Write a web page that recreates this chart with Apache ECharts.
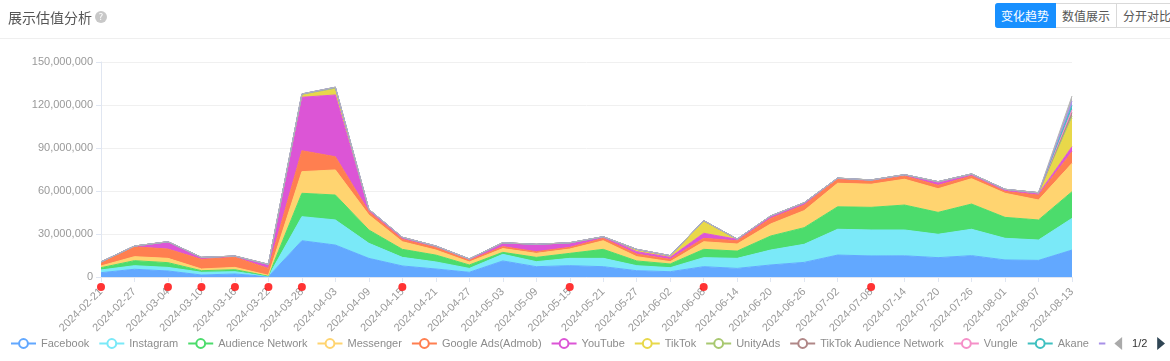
<!DOCTYPE html>
<html>
<head>
<meta charset="utf-8">
<script src="https://cdn.jsdelivr.net/npm/echarts@6/dist/echarts.min.js"></script>
<style>
  html, body { margin: 0; padding: 0; background: #fff; }
  body { width: 1170px; height: 361px; position: relative; overflow: hidden; font-family: "Noto Sans CJK SC", "Noto Sans", sans-serif; }
  #chart { position: absolute; left: 0; top: 0; width: 1170px; height: 361px; }
  .title { position: absolute; left: 8px; top: 7px; font-size: 14px; color: #555; z-index: 2; }
  .help { display: inline-block; width: 12px; height: 12px; border-radius: 50%; background: #c8c8c8; color: #fff; font-size: 9px; line-height: 12px; text-align: center; vertical-align: 3px; margin-left: 3px; font-family: "DejaVu Sans", sans-serif; }
  .sep { position: absolute; left: 0; top: 38px; width: 1170px; height: 1px; background: #efefef; z-index: 2; }
  .btns { position: absolute; left: 995px; top: 3px; display: flex; z-index: 2; }
  .btn { height: 23px; line-height: 23px; padding: 0 6px; font-size: 12px; color: #555; border: 1px solid #d9d9d9; border-left: none; background: #fff; white-space: nowrap; }
  .btn.on { background: #1890ff; color: #fff; border-color: #1890ff; border-radius: 3px 0 0 3px; }
</style>
</head>
<body>
<div id="chart"></div>
<div class="title">展示估值分析<span class="help">?</span></div>
<div class="sep"></div>
<div class="btns"><div class="btn on">变化趋势</div><div class="btn">数值展示</div><div class="btn">分开对比</div></div>
<script>
const dates = ['2024-02-21','2024-02-27','2024-03-04','2024-03-10','2024-03-16','2024-03-22','2024-03-28','2024-04-03','2024-04-09','2024-04-15','2024-04-21','2024-04-27','2024-05-03','2024-05-09','2024-05-15','2024-05-21','2024-05-27','2024-06-02','2024-06-08','2024-06-14','2024-06-20','2024-06-26','2024-07-02','2024-07-08','2024-07-14','2024-07-20','2024-07-26','2024-08-01','2024-08-07','2024-08-13'];
const yTicks = [0, 30000000, 60000000, 90000000, 120000000, 150000000];
const markerDates = ['2024-02-21','2024-03-04','2024-03-10','2024-03-16','2024-03-22','2024-03-28','2024-04-15','2024-05-15','2024-06-08','2024-07-08'];

// values in millions
const facebook  = [3.0,5.4,4.2,1.4,2.1,0.3,25.3,22.3,13.0,7.7,5.6,3.3,11.2,7.2,7.9,7.2,4.4,3.7,7.2,6.0,8.4,10.2,15.3,14.7,14.8,13.5,14.9,11.9,11.6,18.8];
const instagram = [1.9,2.5,2.5,1.9,1.6,0.2,16.8,17.5,10.5,6.0,4.9,2.7,4.6,3.5,5.1,5.8,3.5,2.8,6.3,7.0,10.4,12.6,18.0,18.1,18.0,16.3,18.4,15.1,14.2,22.1];
const audienceNetwork = [1.6,3.5,3.3,1.1,1.4,0.2,16.3,17.4,9.3,5.6,4.8,2.4,1.4,3.0,3.5,6.3,3.3,2.6,5.8,5.1,9.8,11.6,15.7,15.8,17.4,15.3,17.6,14.6,14.0,18.6];
const messenger = [1.2,2.8,3.0,1.2,1.6,0.5,15.1,17.5,10.5,5.3,3.5,2.1,2.6,2.8,3.0,6.0,3.0,1.6,5.3,4.9,8.4,11.9,16.4,16.1,18.0,16.5,17.7,16.8,13.9,19.8];
const googleAds = [2.8,6.9,6.5,6.7,7.0,4.8,14.6,9.2,2.3,1.7,1.7,1.1,1.4,1.2,1.2,1.7,1.8,1.6,2.4,2.3,3.9,3.9,3.0,2.5,2.3,2.4,1.9,1.4,3.5,8.1];
const youtube   = [0,0.5,5.1,1.4,0.9,2.8,37.3,43.1,1.1,1.4,1.1,1.0,2.7,5.1,3.2,1.1,1.7,1.4,3.5,1.0,1.7,1.6,0.4,0.3,0.6,2.0,0.9,0.7,0.7,3.5];
const tiktok    = [0,0,0,0,0,0,1.6,4.0,0.5,0,0,0,0,0,0,0,1.6,1.2,8.8,0.2,0,0,0.2,0.2,0.3,0.5,0.5,0.7,0.9,19.8];
const unityAds  = [0,0,0,0,0,0,0.4,0.8,0,0,0,0,0,0,0,0,0,0,0,0,0,0,0,0,0,0,0,0,0,1.5];
const tiktokAN  = [0,0,0,0,0,0,0.3,0.6,0,0,0,0,0,0,0,0,0,0,0,0,0,0,0,0,0,0,0,0,0,2.5];
const vungle    = [0,0,0,0,0,0,0,0,0,0,0,0,0,0,0,0,0,0,0,0,0,0,0,0,0,0,0,0,0,2.0];
const akane     = [0,0,0,0,0,0,0,0,0,0,0,0,0,0,0,0,0,0,0,0,0,0,0,0,0,0,0,0,0,3.0];
const mintegral = [0,0,0,0,0,0,0,0,0,0,0,0,0,0,0,0,0,0,0,0,0,0,0,0,0,0,0,0,0,3.0];
const others    = [0,0,0,0,0,0,0,0,0,0,0,0,0,0,0,0,0,0,0,0,0,0,0,0,0,0,0,0,0,3.6];

const seriesNames = ['Facebook','Instagram','Audience Network','Messenger','Google Ads(Admob)','YouTube','TikTok','UnityAds','TikTok Audience Network','Vungle','Akane','Mintegral','Others'];
const seriesValues = [facebook,instagram,audienceNetwork,messenger,googleAds,youtube,tiktok,unityAds,tiktokAN,vungle,akane,mintegral,others];
const colors = ['#62a8ff','#7ae9f8','#4cdc6c','#ffd470','#ff7f50','#dc55d6','#e8d84a','#a8c870','#b08787','#f590c8','#3fc0c0','#a890e8','#b5b5b5'];
const FONT = '"Liberation Sans", Arial, sans-serif';

const chart = echarts.init(document.getElementById('chart'));
const series = seriesNames.map((name, i) => ({
  name, type: 'line', stack: 'total', smooth: false,
  symbol: 'emptyCircle', showSymbol: false,
  lineStyle: { width: 1, color: colors[i] },
  itemStyle: { color: colors[i] },
  areaStyle: { color: colors[i], opacity: 1 },
  data: seriesValues[i].map(v => Math.round(v * 1000000))
}));
series.push({
  name: 'marker', type: 'scatter', clip: false, symbol: 'circle', symbolSize: 8,
  symbolOffset: [0, 10], itemStyle: { color: '#f00' }, z: 10, silent: true,
  data: markerDates.map(d => [d, 0])
});

chart.setOption({
  animation: false,
  color: colors,
  textStyle: { fontFamily: FONT },
  grid: { left: 101, right: 98, top: 62, bottom: 84 },
  legend: {
    type: 'scroll', data: seriesNames, left: 5, right: 6, bottom: 6,
    itemWidth: 25, itemHeight: 11, itemGap: 9,
    textStyle: { color: '#8c8c8c', fontSize: 11, fontFamily: FONT },
    pageIconColor: '#2f4554', pageIconInactiveColor: '#aaa', pageIconSize: 13,
    pageTextStyle: { color: '#333', fontFamily: FONT, fontSize: 11 }
  },
  xAxis: {
    type: 'category', data: dates, boundaryGap: false,
    axisLine: { lineStyle: { color: '#e0e6f1' } },
    axisTick: { lineStyle: { color: '#e0e6f1' } },
    axisLabel: { rotate: 45, color: '#999', fontSize: 11, fontFamily: FONT, interval: 0, margin: 13 }
  },
  yAxis: {
    type: 'value', min: yTicks[0], max: yTicks[yTicks.length - 1], interval: yTicks[1] - yTicks[0],
    axisLine: { show: true, lineStyle: { color: '#e0e6f1' } },
    axisTick: { show: true, lineStyle: { color: '#e0e6f1' } },
    splitLine: { lineStyle: { color: '#f0f0f0' } },
    axisLabel: { color: '#999', fontSize: 11, fontFamily: FONT, formatter: v => v.toLocaleString('en-US') }
  },
  series
});
</script>
</body>
</html>
